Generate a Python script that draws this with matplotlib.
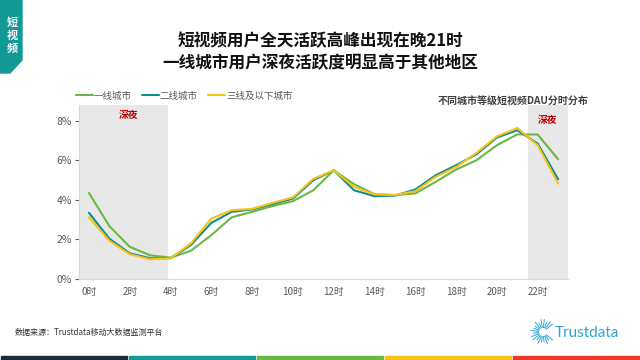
import numpy as np
import matplotlib.pyplot as plt
from matplotlib.patches import Polygon, Rectangle

plt.rcParams['font.family'] = ['Noto Sans CJK SC', 'DejaVu Sans']

# 数据：每小时 DAU 占比 (%)
hours = list(range(24))
tick_labels = [f'{h}时' for h in range(0, 24, 2)]
tier1 = [4.36, 2.68, 1.63, 1.20, 1.08, 1.43, 2.22, 3.12, 3.40, 3.69, 3.94, 4.49,
         5.50, 4.80, 4.29, 4.25, 4.33, 4.92, 5.54, 6.01, 6.77, 7.32, 7.31, 6.06]
tier2 = [3.35, 2.04, 1.30, 1.05, 1.05, 1.72, 2.84, 3.40, 3.52, 3.79, 4.07, 5.00,
         5.50, 4.49, 4.19, 4.22, 4.53, 5.25, 5.76, 6.31, 7.16, 7.53, 6.85, 5.05]
tier3 = [3.12, 1.94, 1.25, 1.00, 1.05, 1.80, 3.06, 3.48, 3.55, 3.85, 4.13, 5.07,
         5.50, 4.66, 4.28, 4.25, 4.44, 5.17, 5.67, 6.38, 7.22, 7.64, 6.77, 4.83]
series_names = ['一线城市', '二线城市', '三线及以下城市']
colors = ['#6cb744', '#0e8c94', '#f6c216']

fig = plt.figure(figsize=(6.4, 3.6), dpi=100)
ax = fig.add_axes([0.123, 0.225, 0.765, 0.483])

# 深夜阴影
ax.axvspan(-0.5, 3.9, color='#e8e8e8', zorder=0, lw=0)
ax.axvspan(21.5, 23.5, color='#e8e8e8', zorder=0, lw=0)
ax.text(1.95, 8.3, '深夜', color='#c00000', fontsize=7, fontweight='bold', ha='center', va='center')
ax.text(22.5, 8.05, '深夜', color='#c00000', fontsize=7, fontweight='bold', ha='center', va='center')

lines = []
for vals, name, c in zip([tier1, tier2, tier3], series_names, colors):
    l, = ax.plot(hours, vals, color=c, lw=1.5, label=name, solid_capstyle='round')
    lines.append(l)

ax.set_xlim(-0.5, 23.5)
ax.set_ylim(0, 8.8)
ax.set_xticks(range(0, 24, 2))
ax.set_xticklabels(tick_labels)
ax.set_yticks([0, 2, 4, 6, 8])
ax.set_yticklabels(['0%', '2%', '4%', '6%', '8%'])
ax.tick_params(axis='x', length=0, labelsize=7, colors='#595959', pad=6)
ax.tick_params(axis='y', length=3, labelsize=7.5, colors='#595959', pad=2)
for s in ['top', 'right']:
    ax.spines[s].set_visible(False)
for s in ['left', 'bottom']:
    ax.spines[s].set_color('#d9d9d9')
    ax.spines[s].set_linewidth(0.8)

fig.legend(lines, series_names, loc='center left', bbox_to_anchor=(0.105, 0.733),
           ncol=3, frameon=False, fontsize=6.8, handlelength=1.8, columnspacing=1.1,
           handletextpad=0.1, labelcolor='#595959')

fig.text(0.5, 0.885, '短视频用户全天活跃高峰出现在晚21时', ha='center', va='center',
         fontsize=12, fontweight='bold', color='#111111')
fig.text(0.5, 0.825, '一线城市用户深夜活跃度明显高于其他地区', ha='center', va='center',
         fontsize=12, fontweight='bold', color='#111111')
fig.text(0.802, 0.72, '不同城市等级短视频DAU分时分布', ha='center', va='center',
         fontsize=7.2, fontweight='bold', color='#404040')
fig.text(0.023, 0.078, '数据来源：Trustdata移动大数据监测平台', ha='left', va='center',
         fontsize=5.8, color='#333333')

# 左上角标签
fig.patches.append(Polygon([(0, 1), (22 / 640, 1), (22 / 640, 1 - 60 / 360),
                            (10 / 640, 1 - 73 / 360), (0, 1 - 73 / 360)],
                           closed=True, transform=fig.transFigure, color='#139a97', zorder=1))
for i, ch in enumerate('短视频'):
    fig.text(12 / 640, 1 - (22 + i * 13) / 360, ch, ha='center', va='center',
             fontsize=8, fontweight='bold', color='white')

# 底部彩条
bar_colors = ['#1d2a3a', '#129a97', '#6cb744', '#f6c216', '#e8392c']
for i, c in enumerate(bar_colors):
    fig.patches.append(Rectangle((i * 0.2 + 0.002, 0), 0.196, 4 / 360, transform=fig.transFigure,
                                 color=c, zorder=1))

# Trustdata 标志
lax = fig.add_axes([(543 - 13) / 640, 1 - (332 + 13) / 360, 26 / 640, 26 / 360])
lax.set_xlim(-1, 1)
lax.set_ylim(-1, 1)
lax.axis('off')
for a in np.linspace(40, 320, 20):
    r = np.deg2rad(a)
    r2 = 0.95 if int(a) % 2 == 0 else 0.75
    lax.plot([0.35 * np.cos(r), r2 * np.cos(r)], [0.35 * np.sin(r), r2 * np.sin(r)],
             color='#2aa7d6', lw=0.7)
fig.text(555 / 640, 1 - 333 / 360, 'Trustdata', ha='left', va='center',
         fontsize=11, color='#2aa7d6', family='Lato')

fig.savefig('out.png', dpi=100)
